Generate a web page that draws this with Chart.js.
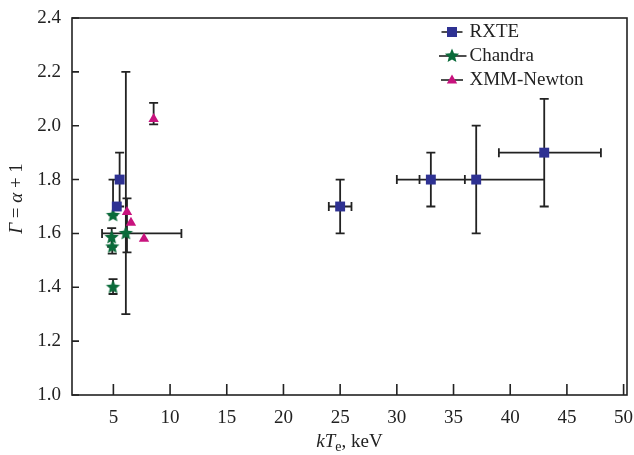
<!DOCTYPE html>
<html lang="en">
<head>
  <meta charset="UTF-8" />
  <title>Photon index vs electron temperature</title>
  <script src="https://cdn.jsdelivr.net/npm/chart.js"></script>
  <style>
    html, body { margin: 0; padding: 0; background: #fff; }
  </style>
</head>
<body>
  <canvas id="chart" width="634" height="455"></canvas>

  <script>
    // kTe (keV) and Gamma per instrument; error ranges are [lo, hi], null where absent
    const rxteKT = [5.3, 5.55, 25, 33, 37, 43];
    const rxteGamma = [1.70, 1.80, 1.70, 1.80, 1.80, 1.90];
    const rxteKTErr = [null, null, [24, 26], [32, 36], [30, 43], [39, 48]];
    const rxteGammaErr = [null, [1.70, 1.90], [1.60, 1.80], [1.70, 1.90], [1.60, 2.00], [1.70, 2.10]];

    const chandraKT = [4.97, 4.85, 4.9, 4.97, 6.1];
    const chandraGamma = [1.667, 1.585, 1.55, 1.40, 1.60];
    const chandraKTErr = [null, null, null, null, [4.0, 11.0]];
    const chandraGammaErr = [[1.667, 1.80], [1.55, 1.62], [1.525, 1.55], [1.375, 1.43], [1.30, 2.20]];

    const xmmKT = [6.2, 6.55, 7.7, 8.55];
    const xmmGamma = [1.68, 1.64, 1.58, 2.025];
    const xmmKTErr = [null, null, null, null];
    const xmmGammaErr = [[1.53, 1.73], null, null, [2.005, 2.085]];

    const xTicks = [5, 10, 15, 20, 25, 30, 35, 40, 45, 50];
    const yTicks = [1.0, 1.2, 1.4, 1.6, 1.8, 2.0, 2.2, 2.4];

    const INK = '#222';
    const SERIF = "'Liberation Serif', 'Times New Roman', serif";
    const BLUE = '#2E3192', GREEN = '#0A6B3A', MAGENTA = '#C8137E';

    function drawStar(g, cx, cy, r, color) {
      g.fillStyle = color;
      g.beginPath();
      for (let i = 0; i < 10; i++) {
        const rad = i % 2 ? r * 0.45 : r;
        const a = -Math.PI / 2 + i * Math.PI / 5;
        g.lineTo(cx + rad * Math.cos(a), cy + rad * Math.sin(a));
      }
      g.closePath();
      g.fill();
    }

    function starCanvas(r, color) {
      const c = document.createElement('canvas');
      c.width = c.height = Math.ceil(r * 2) + 2;
      drawStar(c.getContext('2d'), c.width / 2, c.height / 2, r, color);
      return c;
    }

    // legend icon: short line with the marker on top
    function legendIcon(half, marker) {
      const c = document.createElement('canvas');
      c.width = 34; c.height = 18;
      const g = c.getContext('2d');
      const cx = 17, cy = 9;
      g.strokeStyle = INK; g.lineWidth = 1.6;
      g.beginPath(); g.moveTo(cx - half, cy); g.lineTo(cx + half, cy); g.stroke();
      marker(g, cx, cy);
      return c;
    }

    const icons = [
      legendIcon(10.5, (g, x, y) => { g.fillStyle = BLUE; g.fillRect(x - 5, y - 5, 10, 10); }),
      legendIcon(14.5, (g, x, y) => drawStar(g, x, y, 7.5, GREEN)),
      legendIcon(11, (g, x, y) => {
        g.fillStyle = MAGENTA; g.beginPath();
        g.moveTo(x, y - 5.5); g.lineTo(x + 5.2, y + 3.5); g.lineTo(x - 5.2, y + 3.5);
        g.closePath(); g.fill();
      }),
    ];

    const pts = (xs, ys) => xs.map((x, i) => ({ x, y: ys[i] }));

    const errorBars = {
      id: 'errorBars',
      beforeDatasetsDraw(chart) {
        const { ctx, scales: { x, y } } = chart;
        ctx.save();
        ctx.strokeStyle = INK;
        ctx.lineWidth = 1.8;
        ctx.beginPath();
        chart.data.datasets.forEach(ds => {
          ds.data.forEach((p, i) => {
            const px = x.getPixelForValue(p.x), py = y.getPixelForValue(p.y);
            const ey = ds.errY[i], ex = ds.errX[i];
            if (ey) {
              const lo = y.getPixelForValue(ey[0]), hi = y.getPixelForValue(ey[1]);
              ctx.moveTo(px, lo); ctx.lineTo(px, hi);
              ctx.moveTo(px - 4.5, lo); ctx.lineTo(px + 4.5, lo);
              ctx.moveTo(px - 4.5, hi); ctx.lineTo(px + 4.5, hi);
            }
            if (ex) {
              const lo = x.getPixelForValue(ex[0]), hi = x.getPixelForValue(ex[1]);
              ctx.moveTo(lo, py); ctx.lineTo(hi, py);
              ctx.moveTo(lo, py - 4.5); ctx.lineTo(lo, py + 4.5);
              ctx.moveTo(hi, py - 4.5); ctx.lineTo(hi, py + 4.5);
            }
          });
        });
        ctx.stroke();
        ctx.restore();
      }
    };

    // draw text runs with mixed styles, returns total width when measureOnly
    function runs(ctx, parts, x, y, measureOnly) {
      let w = 0;
      parts.forEach(p => {
        ctx.font = p.font;
        if (!measureOnly) ctx.fillText(p.t, x + w, y + (p.dy || 0));
        w += ctx.measureText(p.t).width;
      });
      return w;
    }

    const frame = {
      id: 'frame',
      afterLayout(chart) {
        const lg = chart.legend, a = chart.chartArea;
        lg.left = a.right - 188;
        lg.top = a.top - 0.5;
      },
      afterDraw(chart) {
        const { ctx, chartArea: a, scales: { x, y } } = chart;
        ctx.save();
        ctx.strokeStyle = INK;
        ctx.lineWidth = 1.6;
        ctx.strokeRect(a.left, a.top, a.right - a.left, a.bottom - a.top);
        ctx.beginPath();
        x.ticks.forEach(t => {
          const px = x.getPixelForValue(t.value);
          ctx.moveTo(px, a.bottom); ctx.lineTo(px, a.bottom - 11);
        });
        y.ticks.forEach(t => {
          const py = y.getPixelForValue(t.value);
          ctx.moveTo(a.left, py); ctx.lineTo(a.left + 7, py);
        });
        ctx.stroke();

        ctx.fillStyle = INK;
        ctx.textBaseline = 'alphabetic';
        ctx.textAlign = 'left';
        const it = 'italic 19px ' + SERIF, rm = '19px ' + SERIF, sub = '14px ' + SERIF;
        const xTitle = [
          { t: 'kT', font: it },
          { t: 'e', font: sub, dy: 4 },
          { t: ', keV', font: rm },
        ];
        const xw = runs(ctx, xTitle, 0, 0, true);
        runs(ctx, xTitle, (a.left + a.right) / 2 - xw / 2, 447);

        const yTitle = [
          { t: 'Γ', font: it },
          { t: ' = ', font: rm },
          { t: 'α', font: it },
          { t: ' + 1', font: rm },
        ];
        ctx.translate(21.5, 198.5);
        ctx.rotate(-Math.PI / 2);
        const yw = runs(ctx, yTitle, 0, 0, true);
        runs(ctx, yTitle, -yw / 2, 0);
        ctx.restore();
      }
    };

    const tickFont = { family: SERIF, size: 19 };

    new Chart(document.getElementById('chart'), {
      type: 'scatter',
      data: {
        datasets: [
          {
            label: 'RXTE', data: pts(rxteKT, rxteGamma),
            errX: rxteKTErr, errY: rxteGammaErr,
            pointStyle: 'rect', pointRadius: 7, backgroundColor: BLUE, borderWidth: 0,
          },
          {
            label: 'Chandra', data: pts(chandraKT, chandraGamma),
            errX: chandraKTErr, errY: chandraGammaErr,
            pointStyle: starCanvas(7.5, GREEN), backgroundColor: GREEN,
          },
          {
            label: 'XMM-Newton', data: pts(xmmKT, xmmGamma),
            errX: xmmKTErr, errY: xmmGammaErr,
            pointStyle: 'triangle', pointRadius: 6, backgroundColor: MAGENTA, borderWidth: 0,
          },
        ]
      },
      options: {
        responsive: false,
        animation: false,
        devicePixelRatio: 1,
        layout: { padding: { top: 18, right: 7, left: 0, bottom: 0 } },
        scales: {
          x: {
            type: 'linear', min: 1.35, max: 50.3,
            afterBuildTicks: s => { s.ticks = xTicks.map(v => ({ value: v })); },
            afterFit: s => { s.height = 60; s.paddingLeft = 0; s.paddingRight = 0; },
            grid: { display: false, drawTicks: false },
            border: { display: false },
            ticks: { font: tickFont, color: INK, padding: 12, maxRotation: 0 },
          },
          y: {
            min: 1.0, max: 2.4,
            afterBuildTicks: s => { s.ticks = yTicks.map(v => ({ value: v })); },
            afterFit: s => { s.width = 72; s.paddingTop = 0; s.paddingBottom = 0; },
            grid: { display: false, drawTicks: false },
            border: { display: false },
            ticks: { font: tickFont, color: INK, padding: 11, callback: v => v.toFixed(1) },
          }
        },
        plugins: {
          tooltip: { enabled: false },
          legend: {
            position: 'chartArea',
            align: 'start',
            labels: {
              usePointStyle: true, pointStyleWidth: 16, padding: 5,
              color: INK, font: { family: SERIF, size: 19 },
              generateLabels: chart => chart.data.datasets.map((ds, i) => ({
                text: ds.label, pointStyle: icons[i], datasetIndex: i,
                hidden: false, fontColor: INK, lineWidth: 0,
              })),
            }
          }
        }
      },
      plugins: [errorBars, frame]
    });
  </script>
</body>
</html>
